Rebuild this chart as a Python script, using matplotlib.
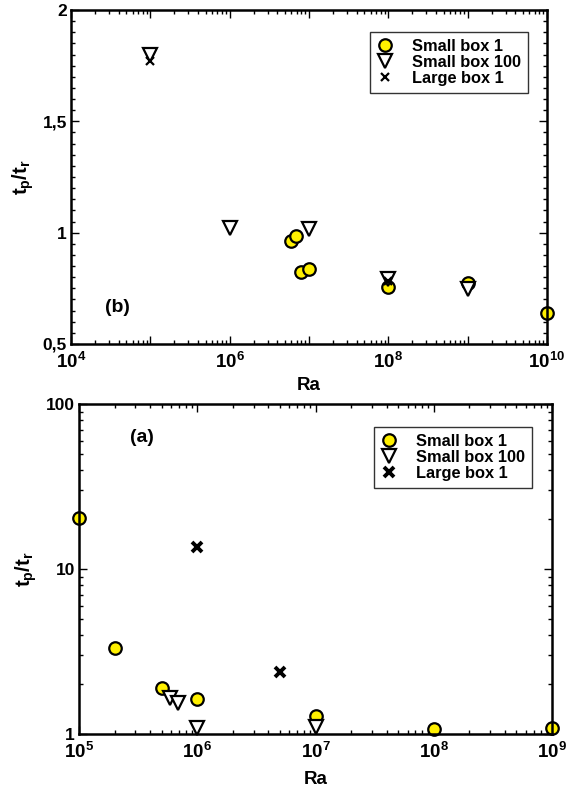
import matplotlib
matplotlib.use("Agg")
import matplotlib.pyplot as plt
from matplotlib.ticker import LogLocator, FixedLocator, MultipleLocator, FuncFormatter, NullFormatter
import numpy as np

plt.rcParams['font.family'] = ['Liberation Sans', 'DejaVu Sans']
plt.rcParams['font.weight'] = 'bold'
plt.rcParams['mathtext.fontset'] = 'custom'
plt.rcParams['mathtext.rm'] = 'Liberation Sans:bold'
plt.rcParams['mathtext.bf'] = 'Liberation Sans:bold'
plt.rcParams['mathtext.it'] = 'Liberation Sans:bold'
plt.rcParams['mathtext.sf'] = 'Liberation Sans:bold'

# ---------- Panel (b) data ----------
b_small1_ra = [5.9e6, 6.9e6, 8e6, 1e7, 1e8, 1e9, 1e10]
b_small1_t = [0.964, 0.984, 0.825, 0.838, 0.758, 0.773, 0.64]
b_small100_ra = [1e5, 1e6, 1e7, 1e8, 1e9]
b_small100_t = [1.80, 1.02, 1.015, 0.79, 0.746]
b_large1_ra = [1e5, 1e8]
b_large1_t = [1.77, 0.785]

# ---------- Panel (a) data ----------
a_small1_ra = [1e5, 2e5, 5e5, 1e6, 1e7, 1e8, 1e9]
a_small1_t = [20.5, 3.33, 1.91, 1.62, 1.29, 1.07, 1.08]
a_small100_ra = [5.9e5, 6.9e5, 1e6, 1e7]
a_small100_t = [1.66, 1.55, 1.09, 1.11]
a_large1_ra = [1e6, 5e6]
a_large1_t = [13.5, 2.39]

labels = ['Small box 1', 'Small box 100', 'Large box 1']
yellow = '#FFF000'

W, H = 578, 787
fig = plt.figure(figsize=(W / 100, H / 100), dpi=100)

def px_axes(l, t, r, b):
    return fig.add_axes([l / W, 1 - b / H, (r - l) / W, (b - t) / H])

def style(ax):
    for s in ax.spines.values():
        s.set_linewidth(1.8)
    ax.tick_params(which='both', direction='in', top=True, right=True, width=1.0)
    ax.tick_params(axis='y', labelsize=12.5, pad=3)
    ax.tick_params(axis='x', labelsize=13.5, pad=6)
    ax.tick_params(which='major', length=6)
    ax.tick_params(which='minor', length=3)

def sci_fmt(show_even_only):
    def f(v, pos):
        e = int(round(np.log10(v)))
        if show_even_only and e % 2:
            return ''
        return r'$\mathbf{10^{%d}}$' % e
    return FuncFormatter(f)

leg_kw = dict(fontsize=11.8, frameon=True, fancybox=False, edgecolor='black',
              handlelength=1.0, handletextpad=1.2, borderpad=0.4,
              labelspacing=0.08, borderaxespad=0)

kw_c = dict(ls='none', marker='o', ms=9, mfc=yellow, mec='black', mew=1.6, clip_on=False)
kw_t = dict(ls='none', marker='v', ms=10.5, mfc='white', mec='black', mew=1.6, clip_on=False)

# ---------- Top panel (b) ----------
axb = px_axes(71, 10, 547, 344)
style(axb)
axb.set_xscale('log')
axb.set_xlim(1e4, 1e10)
axb.set_ylim(0.5, 2)
axb.xaxis.set_major_locator(LogLocator(base=10, numticks=20))
axb.xaxis.set_minor_locator(LogLocator(base=10, subs=np.arange(2, 10), numticks=20))
axb.xaxis.set_major_formatter(sci_fmt(True))
axb.xaxis.set_minor_formatter(NullFormatter())
axb.yaxis.set_major_locator(FixedLocator([0.5, 1.0, 1.5, 2.0]))
axb.yaxis.set_minor_locator(MultipleLocator(0.05))
axb.yaxis.set_major_formatter(FuncFormatter(lambda v, p: ('%g' % v).replace('.', ',')))

axb.plot(b_small1_ra, b_small1_t, label=labels[0], **kw_c)
axb.plot(b_small100_ra, b_small100_t, label=labels[1], **kw_t)
axb.plot(b_large1_ra, b_large1_t, label=labels[2], ls='none', marker='x', ms=6,
         mec='black', mew=1.6, clip_on=False)
axb.set_xlabel('Ra', fontsize=13.5, fontweight='bold', labelpad=3)
axb.set_ylabel(r'$t_p/t_r$', fontsize=14.5, labelpad=5)
axb.text(0.071, 0.096, '(b)', transform=axb.transAxes, fontsize=14, fontweight='bold')
lg = axb.legend(loc='upper right', bbox_to_anchor=(528 / W, 1 - 32 / H),
                bbox_transform=fig.transFigure, **leg_kw)
lg.get_frame().set_linewidth(1.0)

# ---------- Bottom panel (a) ----------
axa = px_axes(79, 404, 552, 734)
style(axa)
axa.set_xscale('log')
axa.set_yscale('log')
axa.set_xlim(1e5, 1e9)
axa.set_ylim(1, 100)
axa.xaxis.set_major_locator(LogLocator(base=10, numticks=20))
axa.xaxis.set_minor_locator(LogLocator(base=10, subs=np.arange(2, 10), numticks=20))
axa.xaxis.set_major_formatter(sci_fmt(False))
axa.xaxis.set_minor_formatter(NullFormatter())
axa.yaxis.set_major_locator(FixedLocator([1, 10, 100]))
axa.yaxis.set_minor_locator(LogLocator(base=10, subs=np.arange(2, 10), numticks=20))
axa.yaxis.set_major_formatter(FuncFormatter(lambda v, p: '%g' % v))
axa.yaxis.set_minor_formatter(NullFormatter())

axa.plot(a_small1_ra, a_small1_t, label=labels[0], **kw_c)
axa.plot(a_small100_ra, a_small100_t, label=labels[1], **kw_t)
axa.plot(a_large1_ra, a_large1_t, label=labels[2], ls='none', marker='x', ms=7.5,
         mec='black', mew=2.8, clip_on=False)
axa.set_xlabel('Ra', fontsize=13.5, fontweight='bold', labelpad=6)
axa.set_ylabel(r'$t_p/t_r$', fontsize=14.5, labelpad=5)
axa.text(0.108, 0.885, '(a)', transform=axa.transAxes, fontsize=14, fontweight='bold')
lg2 = axa.legend(loc='upper right', bbox_to_anchor=(532 / W, 1 - 427 / H),
                 bbox_transform=fig.transFigure, **leg_kw)
lg2.get_frame().set_linewidth(1.0)

fig.savefig('out.png', dpi=100)
